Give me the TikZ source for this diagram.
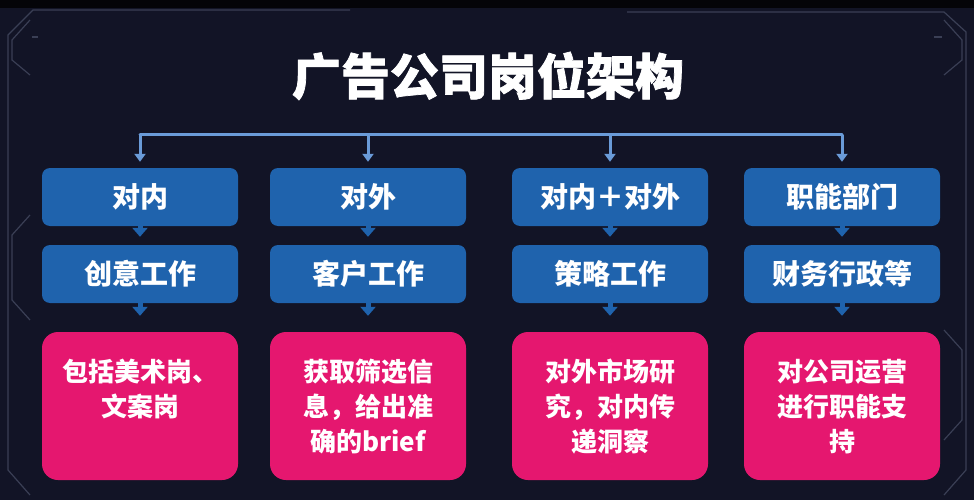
\documentclass[tikz,border=0pt]{standalone}
\usepackage{fontspec}
\newfontfamily\cjk{Noto Sans CJK SC}
\newfontfamily\cjkt{Noto Sans CJK SC}[BoldFeatures={FakeBold=1.5}]
\usetikzlibrary{arrows.meta}
\definecolor{bgc}{HTML}{121426}
\definecolor{boxblue}{HTML}{1F63AD}
\definecolor{boxpink}{HTML}{E5176F}
\definecolor{linkblue}{HTML}{6A9BD8}
\definecolor{framec}{HTML}{3A3F55}
\tikzset{
  bluebox/.style={fill=boxblue, rounded corners=8pt, minimum width=196pt, minimum height=58pt, inner sep=0pt,
    text=white, font=\cjk\bfseries\fontsize{28}{32}\selectfont},
  pinkbox/.style={fill=boxpink, rounded corners=16pt, minimum width=196pt, minimum height=148pt, inner sep=0pt},
  pinktext/.style={text=white, align=center, inner sep=0pt, anchor=north,
    font=\cjk\bfseries\fontsize{26}{35}\selectfont},
  feed/.style={draw=linkblue, line width=3pt, -{Triangle[width=11pt,length=8pt]}},
  stub/.style={draw=boxblue, line width=5pt, -{Triangle[width=15pt,length=9pt]}},
  frame/.style={draw=framec, line width=1.2pt}
}
\begin{document}
\begin{tikzpicture}[x=1pt,y=-1pt]
\useasboundingbox (0,0) rectangle (974,500);
\fill[bgc] (0,0) rectangle (974,500);
\fill[black!80!bgc] (0,0) rectangle (974,8);
% frame decorations
\draw[frame] (350,10) -- (33,10) -- (8,35) -- (8,470) -- (30,495);
\draw[frame] (627,12) -- (944,12) -- (966,32) -- (966,470) -- (944,495);
\draw[frame] (30,20) -- (12,40) -- (12,60) -- (30,75);
\draw[frame] (30,215) -- (12,235) -- (12,300) -- (30,320);
\draw[frame] (944,20) -- (962,40) -- (962,60) -- (944,75);
\draw[frame] (944,330) -- (962,350) -- (962,420) -- (944,440);
\draw[frame] (32,37) -- (38,37);
\draw[frame] (934,37) -- (942,37);

% title
\node[text=white, font=\cjkt\bfseries\fontsize{49}{52}\selectfont] (title) at (488,76) {广告公司岗位架构};

% top row
\node[bluebox] (t1) at (140,197) {对内};
\node[bluebox] (t2) at (368,197) {对外};
\node[bluebox] (t3) at (610,197) {对内＋对外};
\node[bluebox] (t4) at (842,197) {职能部门};
% second row
\node[bluebox] (m1) at (140,274) {创意工作};
\node[bluebox] (m2) at (368,274) {客户工作};
\node[bluebox] (m3) at (610,274) {策略工作};
\node[bluebox] (m4) at (842,274) {财务行政等};
% pink boxes
\node[pinkbox] (p1) at (140,406) {};
\node[pinkbox] (p2) at (368,406) {};
\node[pinkbox] (p3) at (610,406) {};
\node[pinkbox] (p4) at (842,406) {};
\node[pinktext] (q1) at ([yshift=-27pt]p1.north) {包括美术岗、\\文案岗};
\node[pinktext] (q2) at ([yshift=-27pt]p2.north) {获取筛选信\\息，给出准\\确的brief};
\node[pinktext] (q3) at ([yshift=-27pt]p3.north) {对外市场研\\究，对内传\\递洞察};
\node[pinktext] (q4) at ([yshift=-27pt]p4.north) {对公司运营\\进行职能支\\持};

% connector bar
\coordinate (bar1) at (t1.north |- 0,135);
\coordinate (bar4) at (t4.north |- 0,135);
\draw[linkblue, line width=3pt, line cap=round] (bar1) -- (bar4);
\foreach \i in {1,2,3,4}{
  \draw[feed] (t\i.north |- 0,135) -- ([yshift=6pt]t\i.north);
}
% stubs between rows
\foreach \i in {1,2,3,4}{
  \draw[stub] (t\i.south) -- ([yshift=8pt]m\i.north);
  \draw[stub] (m\i.south) -- ([yshift=16pt]p\i.north);
}
\end{tikzpicture}
\end{document}
